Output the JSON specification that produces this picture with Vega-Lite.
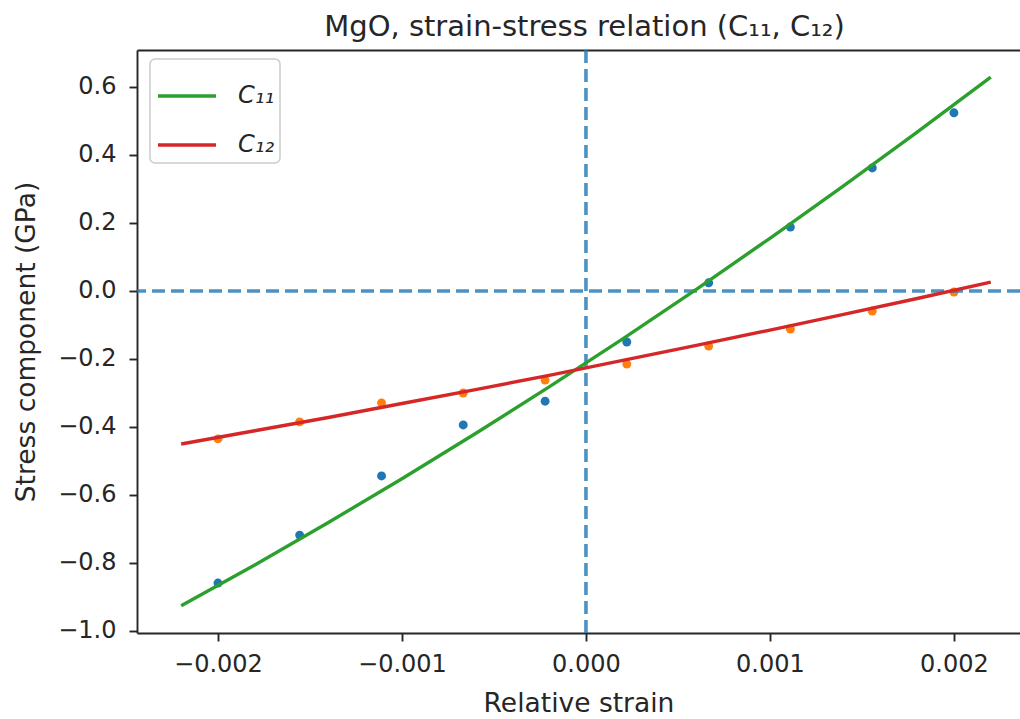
{
  "$schema": "https://vega.github.io/schema/vega-lite/v6.json",
  "autosize": "none",
  "padding": {"left": 137, "top": 50, "right": 0, "bottom": 86},
  "width": 883,
  "height": 583,
  "title": {"text": "MgO, strain-stress relation (C₁₁, C₁₂)", "font": "DejaVu Sans", "fontSize": 29, "fontWeight": "normal", "color": "#262626", "anchor": "middle", "dx": 6, "offset": 6},
  "config": {
    "view": {"stroke": null},
    "axis": {"grid": false, "domainColor": "#262626", "domainWidth": 1.9, "tickColor": "#262626", "tickWidth": 1.9, "tickSize": 8, "labelFont": "DejaVu Sans", "labelFontSize": 24, "labelColor": "#262626", "titleFont": "DejaVu Sans", "titleFontSize": 26.5, "titleFontWeight": "normal", "titleColor": "#262626"},
    "legend": {"strokeWidth": 1.5}
  },
  "datasets": {
    "points": [
      {"strain": -0.002, "stress": -0.859, "series": "C11"},
      {"strain": -0.001556, "stress": -0.718, "series": "C11"},
      {"strain": -0.001111, "stress": -0.544, "series": "C11"},
      {"strain": -0.000667, "stress": -0.394, "series": "C11"},
      {"strain": -0.000222, "stress": -0.324, "series": "C11"},
      {"strain": 0.000222, "stress": -0.150, "series": "C11"},
      {"strain": 0.000667, "stress": 0.024, "series": "C11"},
      {"strain": 0.001111, "stress": 0.188, "series": "C11"},
      {"strain": 0.001556, "stress": 0.362, "series": "C11"},
      {"strain": 0.002, "stress": 0.524, "series": "C11"},
      {"strain": -0.002, "stress": -0.435, "series": "C12"},
      {"strain": -0.001556, "stress": -0.385, "series": "C12"},
      {"strain": -0.001111, "stress": -0.329, "series": "C12"},
      {"strain": -0.000667, "stress": -0.300, "series": "C12"},
      {"strain": -0.000222, "stress": -0.262, "series": "C12"},
      {"strain": 0.000222, "stress": -0.215, "series": "C12"},
      {"strain": 0.000667, "stress": -0.162, "series": "C12"},
      {"strain": 0.001111, "stress": -0.112, "series": "C12"},
      {"strain": 0.001556, "stress": -0.059, "series": "C12"},
      {"strain": 0.002, "stress": -0.003, "series": "C12"}
    ],
    "fit": [
      {"strain": -0.0022, "stress": -0.926, "comp": "C₁₁"},
      {"strain": -0.0018, "stress": -0.806, "comp": "C₁₁"},
      {"strain": -0.0014, "stress": -0.681, "comp": "C₁₁"},
      {"strain": -0.0010, "stress": -0.552, "comp": "C₁₁"},
      {"strain": -0.0006, "stress": -0.419, "comp": "C₁₁"},
      {"strain": -0.0002, "stress": -0.282, "comp": "C₁₁"},
      {"strain": 0.0002, "stress": -0.141, "comp": "C₁₁"},
      {"strain": 0.0006, "stress": 0.005, "comp": "C₁₁"},
      {"strain": 0.0010, "stress": 0.155, "comp": "C₁₁"},
      {"strain": 0.0014, "stress": 0.309, "comp": "C₁₁"},
      {"strain": 0.0018, "stress": 0.467, "comp": "C₁₁"},
      {"strain": 0.0022, "stress": 0.629, "comp": "C₁₁"},
      {"strain": -0.0022, "stress": -0.450, "comp": "C₁₂"},
      {"strain": -0.0018, "stress": -0.411, "comp": "C₁₂"},
      {"strain": -0.0014, "stress": -0.372, "comp": "C₁₂"},
      {"strain": -0.0010, "stress": -0.331, "comp": "C₁₂"},
      {"strain": -0.0006, "stress": -0.290, "comp": "C₁₂"},
      {"strain": -0.0002, "stress": -0.248, "comp": "C₁₂"},
      {"strain": 0.0002, "stress": -0.204, "comp": "C₁₂"},
      {"strain": 0.0006, "stress": -0.160, "comp": "C₁₂"},
      {"strain": 0.0010, "stress": -0.115, "comp": "C₁₂"},
      {"strain": 0.0014, "stress": -0.069, "comp": "C₁₂"},
      {"strain": 0.0018, "stress": -0.022, "comp": "C₁₂"},
      {"strain": 0.0022, "stress": 0.026, "comp": "C₁₂"}
    ],
    "zero": [{"v": 0}]
  },
  "resolve": {"axis": {"x": "independent"}},
  "layer": [
    {
      "data": {"name": "points"},
      "mark": {"type": "point", "filled": true, "opacity": 1, "shape": "circle", "size": 80},
      "encoding": {
        "x": {"field": "strain", "type": "quantitative", "scale": {"domain": [-0.00244, 0.002359], "nice": false, "zero": false},
          "axis": {"title": "Relative strain", "values": [-0.002, -0.001, 0, 0.001, 0.002], "labelExpr": "replace(format(datum.value, '.3f'), '-', '−')", "labelPadding": 11, "titlePadding": 14}},
        "y": {"field": "stress", "type": "quantitative", "scale": {"domain": [-1.0059, 0.7088], "nice": false, "zero": false},
          "axis": {"title": "Stress component (GPa)", "values": [-1.0, -0.8, -0.6, -0.4, -0.2, 0.0, 0.2, 0.4, 0.6], "labelExpr": "replace(format(datum.value, '.1f'), '-', '−')", "labelPadding": 13, "titlePadding": 17}},
        "fill": {"field": "series", "type": "nominal", "scale": {"domain": ["C11", "C12"], "range": ["#1f77b4", "#ff7f0e"]}, "legend": null}
      }
    },
    {
      "data": {"name": "zero"},
      "mark": {"type": "rule", "color": "#1f77b4", "strokeWidth": 3.6, "strokeDash": [13, 6], "opacity": 0.8},
      "encoding": {"y": {"field": "v", "type": "quantitative"}}
    },
    {
      "data": {"name": "zero"},
      "mark": {"type": "rule", "color": "#1f77b4", "strokeWidth": 3.6, "strokeDash": [13, 6], "opacity": 0.8},
      "encoding": {"x": {"field": "v", "type": "quantitative", "axis": {"orient": "top", "labels": false, "ticks": false, "title": null, "domain": true}}}
    },
    {
      "data": {"name": "fit"},
      "mark": {"type": "line", "strokeWidth": 3.4},
      "encoding": {
        "x": {"field": "strain", "type": "quantitative", "axis": null},
        "y": {"field": "stress", "type": "quantitative"},
        "stroke": {"field": "comp", "type": "nominal", "scale": {"domain": ["C₁₁", "C₁₂"], "range": ["#2ca02c", "#d62728"]},
          "legend": {"title": null, "orient": "none", "legendX": 13, "legendY": 9, "symbolType": "stroke", "symbolSize": 3364, "symbolStrokeWidth": 3.4, "labelFont": "DejaVu Sans", "labelFontSize": 24, "labelFontStyle": "italic", "labelColor": "#262626", "labelOffset": 20, "padding": 6, "rowPadding": 6, "fillColor": "white", "strokeColor": "#cccccc", "cornerRadius": 5}}
      }
    }
  ]
}
